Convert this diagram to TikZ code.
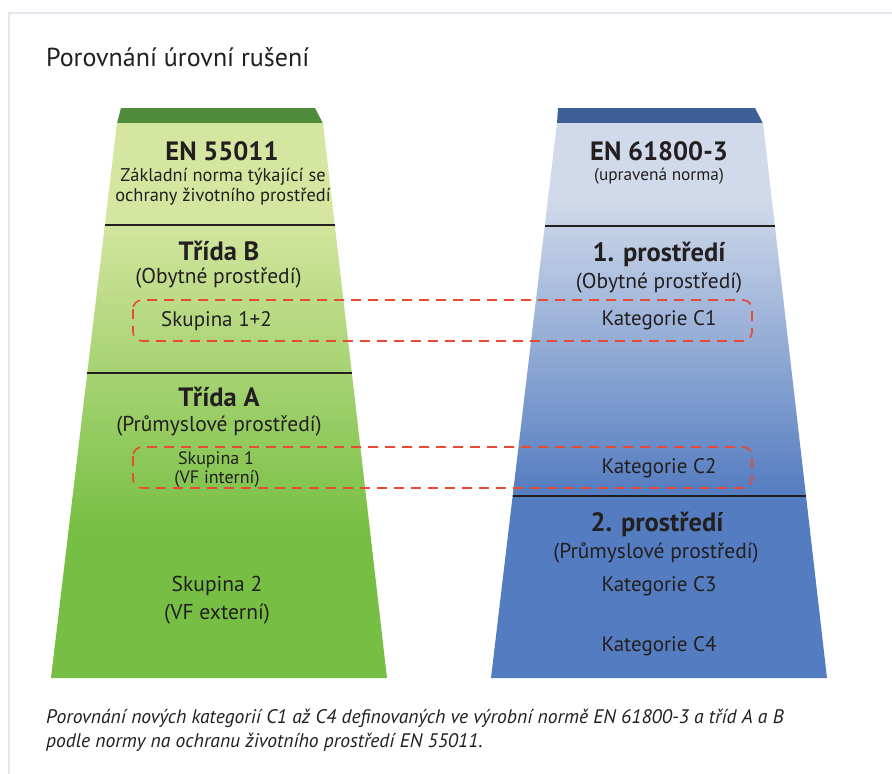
\documentclass[tikz,border=0pt]{standalone}
\usepackage{fontspec}
\setmainfont{PT Sans}
\definecolor{gCap}{HTML}{4E8B3A}
\definecolor{gLight}{HTML}{D5E6A0}
\definecolor{gDark}{HTML}{77BF44}
\definecolor{bCap}{HTML}{3F6096}
\definecolor{bLight}{HTML}{D0DAEA}
\definecolor{bDark}{HTML}{547CC0}
\definecolor{frameC}{HTML}{E3E8EE}
\definecolor{dashC}{HTML}{E84A35}
\definecolor{txtC}{HTML}{231F20}
\newcommand{\fsz}[1]{\fontsize{#1}{#1}\selectfont}
\begin{document}
\begin{tikzpicture}[x=1pt,y=-1pt,
  txt/.style={anchor=base,inner sep=0pt,text=txtC},
  sepline/.style={draw=txtC,line width=1.6pt},
  dbox/.style={draw=dashC,line width=1.6pt,rounded corners=9pt,dash pattern=on 10pt off 7pt},
  bigb/.style={txt,font=\fsz{26.5}\bfseries},
  mid/.style={txt,font=\fsz{21.5}},
  kat/.style={txt,font=\fsz{21}},
  small/.style={txt,font=\fsz{17.3}},
  smallz/.style={txt,font=\fsz{18.4}},
  smallb/.style={txt,font=\fsz{18}}]
\path[use as bounding box] (0,0) rectangle (892,774);
\fill[white] (0,0) rectangle (892,774);
% frame
\draw[frameC,line width=2pt] (9,774) -- (9,12.5) -- (892,12.5);
% title
\node[txt,anchor=base west,font=\fsz{26}] (title) at (46,66) {Porovnání úrovní rušení};
% ---------- left trapezoid ----------
\fill[gCap] (121,108) -- (315,108) -- (323,123.5) -- (117,123.5) -- cycle;
\begin{scope}
\clip (117,123) -- (323,123) -- (387,678) -- (51,678) -- cycle;
\fill[gLight] (0,120) rectangle (440,216);
\shade[top color=gLight,bottom color=gDark] (0,215) rectangle (440,531);
\fill[gDark] (0,530) rectangle (440,680);
\end{scope}
\draw[sepline] (104.9,225) -- (334.8,225);
\draw[sepline] (87.3,373) -- (351.8,373);
% ---------- right trapezoid ----------
\fill[bCap] (558,108) -- (755,108) -- (763,123.5) -- (557,123.5) -- cycle;
\begin{scope}
\clip (557,123) -- (763,123) -- (827,678) -- (491,678) -- cycle;
\fill[bLight] (440,120) rectangle (892,200);
\shade[top color=bLight,bottom color=bDark] (440,199) rectangle (892,496);
\fill[bDark] (440,495) rectangle (892,680);
\end{scope}
\draw[sepline] (544.8,225.7) -- (774.8,225.7);
\draw[sepline] (512.5,495.7) -- (805.5,495.7);
% ---------- dashed boxes ----------
\draw[dbox] (133,300) rectangle (752,341);
\draw[dbox] (133,447) rectangle (752,488);
% ---------- left texts ----------
\node[bigb] (en1) at (222,160) {EN 55011};
\node[smallz] (en1a) at (223,181.5) {Základní norma týkající se};
\node[smallz] (en1b) at (223,201.5) {ochrany životního prostředí};
\node[bigb] (tB) at (219,260) {Třída B};
\node[mid] (tBa) at (218.5,283.5) {(Obytné prostředí)};
\node[kat] (sk12) at (216.5,326.5) {Skupina 1+2};
\node[bigb] (tA) at (219,406.5) {Třída A};
\node[mid] (tAa) at (219,431.5) {(Průmyslové prostředí)};
\node[smallb] (sk1) at (216,464) {Skupina 1};
\node[smallb] (sk1a) at (217,483) {(VF interní)};
\node[mid] (sk2) at (217,591.5) {Skupina 2};
\node[mid] (sk2a) at (217,619) {(VF externí)};
% ---------- right texts ----------
\node[bigb] (en2) at (659,160) {EN 61800-3};
\node[small] (en2a) at (659,180) {(upravená norma)};
\node[bigb] (p1) at (659,261.5) {1. prostředí};
\node[mid] (p1a) at (659,288) {(Obytné prostředí)};
\node[kat] (c1) at (659,325) {Kategorie C1};
\node[kat] (c2) at (659,473) {Kategorie C2};
\node[bigb] (p2) at (657,531.5) {2. prostředí};
\node[mid] (p2a) at (656,558) {(Průmyslové prostředí)};
\node[kat] (c3) at (659,591.5) {Kategorie C3};
\node[kat] (c4) at (659,651.5) {Kategorie C4};
% ---------- caption ----------
\node[txt,anchor=base west,font=\fsz{19.6}\itshape] (cap1) at (46,723.5) {Porovnání nových kategorií C1 až C4 definovaných ve výrobní normě EN 61800-3 a tříd A a B};
\node[txt,anchor=base west,font=\fsz{19.6}\itshape] (cap2) at (46,747.5) {podle normy na ochranu životního prostředí EN 55011.};
\end{tikzpicture}
\end{document}
